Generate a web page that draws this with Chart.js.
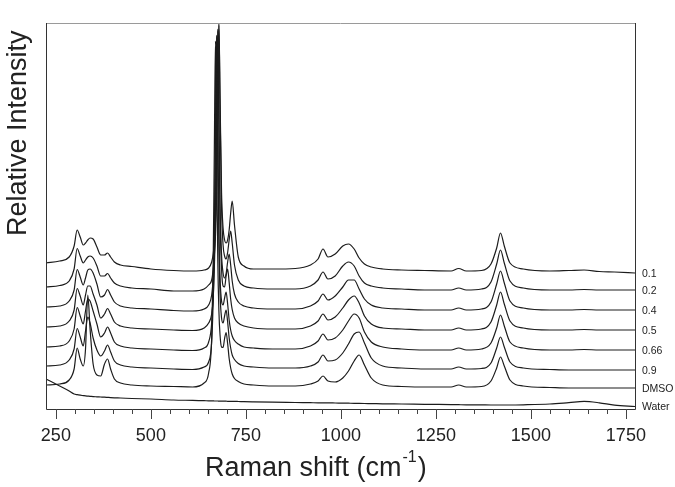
<!DOCTYPE html>
<html>
<head>
<meta charset="utf-8">
<script src="https://cdn.jsdelivr.net/npm/chart.js@4"></script>
<style>
  html, body { margin: 0; padding: 0; background: #fff; }
  #wrap { width: 675px; height: 487px; position: relative; }
</style>
</head>
<body>
<div id="wrap"><canvas id="raman-chart"></canvas></div>
<script>
// Raman shift grid (cm-1), shared by all spectra
const shifts = [
  224, 260, 285, 298, 306, 314, 322, 328, 334, 340,
  348, 358, 368, 378, 386, 394, 404, 420, 450, 500,
  560, 610, 640, 652, 660, 664, 667, 670, 673, 676,
  679, 682, 686, 690, 694, 698, 702, 706, 710, 714,
  720, 730, 745, 770, 820, 880, 920, 940, 953, 966,
  985, 1005, 1020, 1035, 1048, 1062, 1080, 1110, 1160, 1220,
  1290, 1310, 1330, 1370, 1395, 1410, 1420, 1430, 1445, 1480,
  1550, 1600, 1640, 1680, 1720, 1774,
];

// stacked intensities (arbitrary units, offsets included)
const s01 = [
  146, 148, 152, 163, 179, 172, 164, 166, 169, 171,
  170, 162, 154, 154, 156, 152, 147, 144, 142.5, 140,
  138.5, 138, 139, 141, 147, 155, 166, 188, 229, 311,
  386, 312, 216, 181, 169, 166, 169, 179, 196, 208,
  184, 152, 143, 140, 140, 140.5, 144, 150, 160, 152,
  155, 163, 165, 160, 151, 145, 142, 140, 139, 138.5,
  138, 140.5, 138, 138.5, 145, 161, 176, 163, 146, 140,
  138, 138.5, 139, 137.5, 137, 136,
];
const s02 = [
  122, 123.5, 128, 140, 160.5, 153, 146, 149, 152, 153,
  151, 143, 133, 133, 135.5, 131, 126, 123, 121, 120,
  118, 118, 120, 124, 129, 140, 154, 174, 216, 303,
  384, 304, 201, 164, 153, 150, 156.5, 169, 178, 166,
  144, 129, 123, 121, 120, 120, 123, 129, 137, 130,
  133, 143, 147, 143, 133, 126, 123, 121, 120, 119,
  119, 121, 119, 120, 127, 145, 159, 146, 128, 121,
  119, 119, 119.5, 119, 119, 119,
];
const s04 = [
  102, 103, 108, 119, 139.5, 132, 124, 131, 139, 140,
  136, 125, 112, 114, 119.5, 114, 107, 103, 101, 100,
  98.5, 98, 100, 104, 114, 131, 157, 202, 294, 380,
  295, 205, 154, 136, 131, 135.5, 147, 155, 144, 128,
  115, 107, 103, 101, 100, 100, 103, 108, 115, 109,
  113, 122, 129, 129, 120, 110, 104, 101, 100, 99,
  99, 101, 99, 100, 107, 125, 138, 126, 108, 101,
  99, 99, 99.5, 99, 99, 99,
];
const s05 = [
  82, 83, 88, 99, 120.5, 113, 104, 114, 123, 123,
  115, 104, 91, 95, 100.5, 95, 87, 83, 81, 80,
  79, 78.5, 81, 86, 95, 111, 141.5, 189, 286.5, 378,
  288, 193, 140, 123, 122, 133, 140, 126.5, 110, 99.5,
  91, 86, 83, 81, 80, 80, 83, 88, 95, 89,
  92, 101, 109, 113, 106, 93, 85, 81, 80, 79,
  79, 81, 79, 80, 87, 104, 117, 105, 88, 81,
  79, 79, 79.5, 79, 79, 79,
];
const s066 = [
  62, 63, 68, 80, 101.5, 93, 85, 98, 110, 108,
  98, 85, 72, 76, 82, 76, 67, 63, 61, 60,
  59, 58.5, 61, 67, 86, 120, 175, 277.5, 374, 280,
  179.5, 131.5, 108, 104, 111, 117, 105, 89, 79, 73,
  68.5, 65, 62, 61, 60, 60, 63, 68, 75, 69,
  71, 79, 88, 95, 91, 77, 67, 62, 60, 59,
  59, 61, 59, 60, 66, 81, 94, 83, 67, 61,
  59, 59, 59.5, 59, 59, 59,
];
const s09 = [
  43, 44, 49, 60, 80.5, 72, 63, 78, 92, 86,
  71, 59, 53, 58, 64, 57, 48, 44, 42, 41,
  40, 39.5, 42, 47, 67, 108.5, 161, 269.5, 372, 272,
  165.5, 115.5, 91, 86, 93, 99, 87, 71, 61, 54,
  49.5, 45.5, 43, 42, 41, 41, 43, 47, 54, 48,
  49, 56, 65, 75, 77, 66, 51, 43, 41, 40,
  40, 42, 40, 40.5, 46, 61, 72, 62, 47, 41,
  39.5, 39, 39, 39, 39, 39,
];
const sDmso = [
  24, 25, 29, 40, 61, 50, 43, 60, 114, 80,
  45, 34, 33, 45, 50, 40, 30, 26, 24, 23,
  22.5, 22, 26, 36, 71, 148, 261, 368, 262, 151,
  98, 74, 62, 61.5, 70.5, 76.5, 65.5, 50.5, 41, 35,
  30.5, 27.5, 25, 24, 23, 23, 25, 28, 33, 28,
  27, 31, 38, 48, 54, 44, 31, 24, 22.5, 22,
  22, 24, 22, 22.5, 28, 41, 52, 43, 29, 23,
  21.5, 21, 21, 21, 21, 21,
];
const sWater = [
  30, 23, 18, 15, 14.3, 13.8, 13.4, 13.1, 12.9, 12.7,
  12.4, 12.2, 12, 11.8, 11.6, 11.4, 11.2, 11, 10.5, 10,
  9, 8.6, 8.3, 8.2, 8.1, 8.1, 8, 8, 8, 8,
  7.9, 7.9, 7.9, 7.8, 7.8, 7.8, 7.7, 7.7, 7.7, 7.6,
  7.6, 7.5, 7.3, 7.1, 6.8, 6.5, 6.3, 6.2, 6.1, 6.1,
  6, 5.9, 5.8, 5.7, 5.6, 5.5, 5.4, 5.2, 5, 4.7,
  4.4, 4.3, 4.2, 4.1, 4, 4, 4, 4, 4, 4.2,
  5, 6.4, 7.6, 6.2, 3.8, 2.5,
];

const traceLabels = ["0.1", "0.2", "0.4", "0.5", "0.66", "0.9", "DMSO", "Water"];
const traceValues = [s01, s02, s04, s05, s066, s09, sDmso, sWater];

const xMajorTicks = [250, 500, 750, 1000, 1250, 1500, 1750];
const xMinorStep = 50;

const FONT = '"Liberation Sans", Arial, sans-serif';
const INK = "#222";

// frame, ticks, tick labels, trace labels and axis titles
const decorations = {
  id: "decorations",
  afterDatasetsDraw(chart) {
    const { ctx, chartArea: a, scales } = chart;
    const xs = scales.x;
    const ys = scales.y;
    ctx.save();

    // frame
    ctx.lineWidth = 1;
    ctx.strokeStyle = "#9a9a9a";
    ctx.beginPath();
    ctx.moveTo(a.left, a.top + 0.5);
    ctx.lineTo(a.right, a.top + 0.5);
    ctx.stroke();
    ctx.strokeStyle = "#333";
    ctx.beginPath();
    ctx.moveTo(a.left + 0.5, a.top);
    ctx.lineTo(a.left + 0.5, a.bottom + 0.5);
    ctx.lineTo(a.right + 0.5, a.bottom + 0.5);
    ctx.lineTo(a.right + 0.5, a.top);
    ctx.stroke();

    // ticks
    ctx.strokeStyle = "#444";
    for (let v = xMajorTicks[0]; v <= xMajorTicks[xMajorTicks.length - 1]; v += xMinorStep) {
      const px = Math.round(xs.getPixelForValue(v)) + 0.5;
      const len = xMajorTicks.includes(v) ? 10 : 5;
      ctx.beginPath();
      ctx.moveTo(px, a.bottom);
      ctx.lineTo(px, a.bottom + len);
      ctx.stroke();
    }

    // tick labels
    ctx.fillStyle = INK;
    ctx.font = `18px ${FONT}`;
    ctx.textAlign = "center";
    ctx.textBaseline = "middle";
    xMajorTicks.forEach((v) => {
      ctx.fillText(String(v), xs.getPixelForValue(v), a.bottom + 27);
    });

    // trace labels at the right edge
    ctx.font = `10.5px ${FONT}`;
    ctx.textAlign = "left";
    traceLabels.forEach((lab, i) => {
      const vals = traceValues[i];
      const py = ys.getPixelForValue(vals[vals.length - 1]);
      ctx.fillText(lab, a.right + 7, py + 1);
    });

    // x title with superscript
    ctx.textBaseline = "alphabetic";
    ctx.font = `27px ${FONT}`;
    const main = "Raman shift (cm";
    let x = 205;
    const base = 476;
    ctx.fillText(main, x, base);
    x += ctx.measureText(main).width + 1;
    ctx.font = `16px ${FONT}`;
    ctx.fillText("-1", x, base - 14);
    x += ctx.measureText("-1").width + 1;
    ctx.font = `27px ${FONT}`;
    ctx.fillText(")", x, base);

    // y title
    ctx.save();
    ctx.translate(26, 236);
    ctx.rotate(-Math.PI / 2);
    ctx.font = `27px ${FONT}`;
    ctx.textAlign = "left";
    ctx.fillText("Relative Intensity", 0, 0);
    ctx.restore();

    ctx.restore();
  },
};

const ctx = document.getElementById("raman-chart").getContext("2d");

new Chart(ctx, {
  type: "line",
  data: {
    datasets: traceValues.map((vals, i) => ({
      label: traceLabels[i],
      data: shifts.map((s, j) => ({ x: s, y: vals[j] })),
      borderColor: "#1c1c1c",
      borderWidth: 1.2,
      pointRadius: 0,
      fill: false,
      cubicInterpolationMode: "monotone",
    })),
  },
  options: {
    responsive: true,
    maintainAspectRatio: false,
    animation: false,
    layout: {
      padding: { left: 46, right: 40, top: 23, bottom: 78 },
    },
    plugins: {
      legend: { display: false },
      tooltip: { enabled: false },
    },
    scales: {
      x: { type: "linear", min: 224, max: 1774, display: false },
      y: { min: 0, max: 386, display: false },
    },
  },
  plugins: [decorations],
});
</script>
</body>
</html>
